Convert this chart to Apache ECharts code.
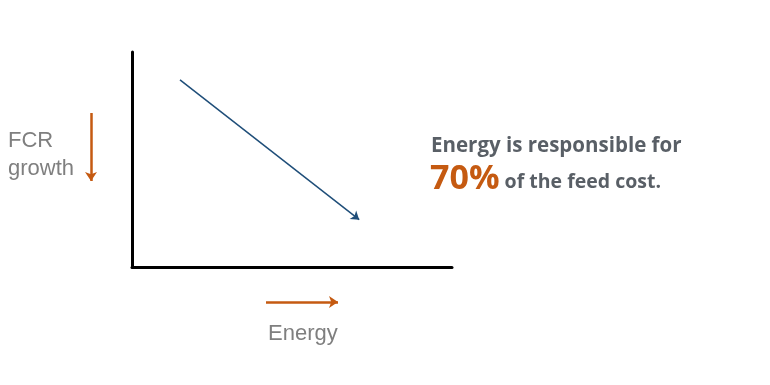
<!DOCTYPE html>
<html>
<head>
<meta charset="utf-8">
<script src="https://cdn.jsdelivr.net/npm/echarts@6/dist/echarts.min.js"></script>
<style>html,body{margin:0;padding:0;background:#fff;}#c{width:770px;height:385px;}</style>
</head>
<body>
<div id="c"></div>
<script>
// Trend line: energy (x) vs FCR growth (y), arbitrary 0-10 scale
const energy = [1.5, 7.1];
const fcrGrowth = [8.7, 2.2];
const yLabel = ['FCR', 'growth'];
const xLabel = 'Energy';
const noteLine1 = 'Energy is responsible for';
const notePct = '70%';
const noteRest = ' of the feed cost.';

const chart = echarts.init(document.getElementById('c'), null, {renderer: 'canvas'});
const orange = '#c55a11';
const gray = '#7f7f7f';
const dark = '#595f66';

chart.setOption({
  animation: false,
  grid: {left: 132, top: 52, right: 318, bottom: 118},
  xAxis: {type: 'value', min: 0, max: 10,
    axisLine: {show: true, lineStyle: {color: '#000', width: 3}},
    axisTick: {show: false}, axisLabel: {show: false}, splitLine: {show: false}},
  yAxis: {type: 'value', min: 0, max: 10,
    axisLine: {show: true, lineStyle: {color: '#000', width: 3}},
    axisTick: {show: false}, axisLabel: {show: false}, splitLine: {show: false}},
  series: [{
    type: 'line',
    data: [],
    markLine: {
      silent: true,
      symbol: ['none', 'arrow'],
      symbolSize: 8,
      label: {show: false},
      lineStyle: {color: '#1f4e79', width: 1.5, type: 'solid'},
      data: [[{coord: [energy[0], fcrGrowth[0]]}, {coord: [energy[1], fcrGrowth[1]]}]]
    }
  }, {
    type: 'line',
    data: [],
    markLine: {
      silent: true,
      symbol: ['none', 'arrow'],
      symbolSize: 9,
      label: {show: false},
      lineStyle: {color: orange, width: 2.5, type: 'solid'},
      data: [
        [{x: 91, y: 113}, {x: 91, y: 181}],
        [{x: 266, y: 302}, {x: 338, y: 302}]
      ]
    }
  }],
  graphic: [
    {type: 'text', left: 8, top: 130, style: {text: yLabel[0], font: '22px "Liberation Sans", Arial, sans-serif', fill: gray}},
    {type: 'text', left: 8, top: 158, style: {text: yLabel[1], font: '22px "Liberation Sans", Arial, sans-serif', fill: gray}},
    {type: 'text', left: 268, top: 323, style: {text: xLabel, font: '22px "Liberation Sans", Arial, sans-serif', fill: gray}},
    {type: 'text', left: 431, top: 136, style: {text: noteLine1, font: 'bold 20.5px "Open Sans", sans-serif', fill: dark}},
    {type: 'text', left: 430, top: 162, style: {
      text: '{p|' + notePct + '}{r|' + noteRest + '}',
      rich: {
        p: {font: 'bold 34px "Open Sans", sans-serif', fill: orange, color: orange},
        r: {font: 'bold 19.5px "Open Sans", sans-serif', fill: dark, color: dark, verticalAlign: 'bottom', padding: [0,0,4,0]}
      }
    }}
  ]
});
</script>
</body>
</html>
